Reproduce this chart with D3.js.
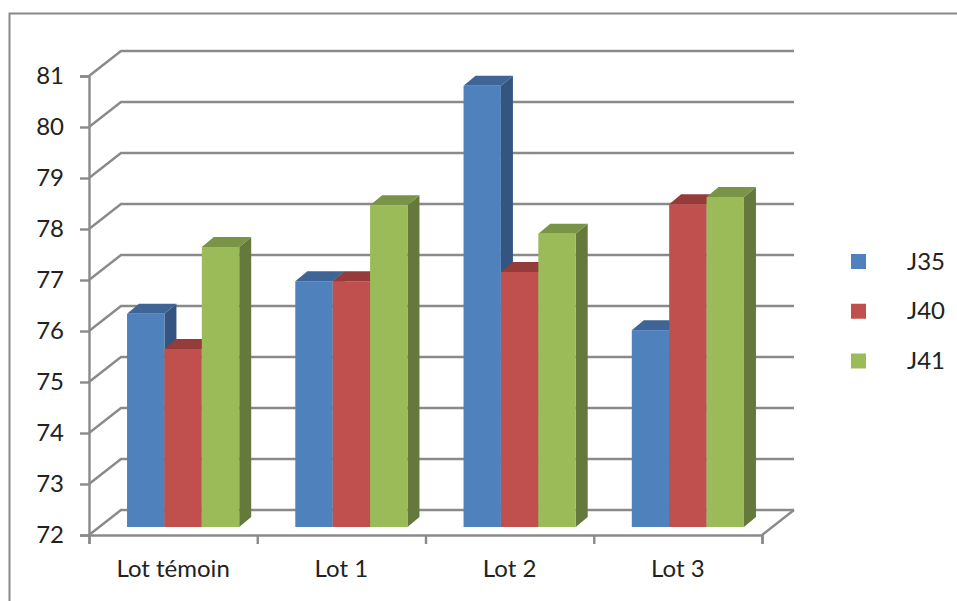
<!DOCTYPE html>
<html>
<head>
<meta charset="utf-8">
<script src="https://cdnjs.cloudflare.com/ajax/libs/d3/7.8.5/d3.min.js"></script>
<style>
html,body{margin:0;padding:0;background:#fff;}
svg{display:block;}
text{font-family:Lato,"Open Sans",sans-serif;fill:#222;}
</style>
</head>
<body>
<script>
// Group labels and series
const categories = ["Lot témoin", "Lot 1", "Lot 2", "Lot 3"];
const seriesNames = ["J35", "J40", "J41"];
const j35 = [76.18, 76.82, 80.65, 75.86];
const j40 = [75.49, 76.82, 77.0, 78.33];
const j41 = [77.49, 78.31, 77.75, 78.47];
const yTicks = [72, 73, 74, 75, 76, 77, 78, 79, 80, 81];
const faceColors = ["#4F81BD", "#C0504D", "#9BBB59"];
const topColors = ["#3E6595", "#953C3A", "#7A9447"];
const sideColors = ["#33557F", "#7F3331", "#66793C"];

const series = [j35, j40, j41];
const W = 957, H = 601;
const gray = "#8a8a8a";

// 3D projection offsets: back wall and bar placement within the floor
const wallDx = 32, wallDy = -25;
const barOffDx = 10, barOffDy = -8;
const barDx = 12, barDy = -10;

const svg = d3.select("body").append("svg").attr("width", W).attr("height", H);

// Outer chart frame, running off the top-right and bottom-left
svg.append("path")
  .attr("d", d3.line()([[957, 13.5], [9.5, 13.5], [9.5, 601]]))
  .attr("fill", "none").attr("stroke", gray).attr("stroke-width", 2);

const y = d3.scaleLinear().domain([72, 81]).range([535, 76]);
const x = d3.scaleBand().domain(categories).range([89, 762]).paddingInner(0).paddingOuter(0);
const xEdges = d3.scaleLinear().domain([0, categories.length]).range([89, 762]);
const inner = d3.scaleBand().domain(seriesNames)
  .range([0, x.bandwidth()]).paddingInner(0).paddingOuter(0.75);

// Back wall gridlines with their diagonals to the side wall
const grid = svg.append("g").attr("fill", "none").attr("stroke", gray).attr("stroke-width", 2.4);
yTicks.forEach(t => {
  grid.append("path").attr("d", d3.line()([
    [89, y(t)],
    [89 + wallDx, y(t) + wallDy],
    [762 + wallDx, y(t) + wallDy]
  ]));
});
// Right edge of the floor
grid.append("path").attr("d", d3.line()([
  [762, y(72)], [762 + wallDx, y(72) + wallDy]
]));

// Axes
const yAxis = svg.append("g").attr("transform", "translate(89,0)")
  .call(d3.axisLeft(y).tickValues(yTicks).tickSize(9).tickPadding(16).tickFormat(d3.format("d")));
const xAxis = svg.append("g").attr("transform", `translate(0,${y(72)})`)
  .call(d3.axisBottom(xEdges).tickValues(d3.range(categories.length + 1)).tickSize(9).tickFormat(""));
[yAxis, xAxis].forEach(a => {
  a.selectAll("path.domain").attr("stroke", gray).attr("stroke-width", 2.4);
  a.selectAll("line").attr("stroke", gray).attr("stroke-width", 2.4);
});
yAxis.selectAll("text").attr("font-size", 24).style("font-family", "Lato").attr("fill", "#222");

svg.append("g").selectAll("text").data(categories).join("text")
  .attr("x", d => x(d) + x.bandwidth() / 2)
  .attr("y", 577)
  .attr("text-anchor", "middle")
  .attr("font-size", 24)
  .text(d => d);

// Bars: front face, top and side as separate polygons, painted left to right
const base = y(72) + barOffDy;
const h = v => (v - 72) * (y(72) - y(73));
const poly = d3.line();
categories.forEach((c, ci) => {
  const g = svg.append("g");
  seriesNames.forEach((s, si) => {
    const v = series[si][ci];
    const x0 = x(c) + inner(s) + barOffDx;
    const x1 = x0 + inner.bandwidth();
    const top = base - h(v);
    g.append("path").attr("fill", sideColors[si]).attr("d", poly([
      [x1, base], [x1 + barDx, base + barDy], [x1 + barDx, top + barDy], [x1, top]
    ]) + "Z");
    g.append("path").attr("fill", topColors[si]).attr("d", poly([
      [x0, top], [x0 + barDx, top + barDy], [x1 + barDx, top + barDy], [x1, top]
    ]) + "Z");
    g.append("rect").attr("fill", faceColors[si])
      .attr("x", x0).attr("y", top)
      .attr("width", inner.bandwidth()).attr("height", base - top);
  });
});

// Legend
const legendY = d3.scalePoint().domain(seriesNames).range([261.5, 361]);
const legend = svg.append("g").selectAll("g").data(seriesNames).join("g")
  .attr("transform", d => `translate(0,${legendY(d)})`);
legend.append("rect")
  .attr("x", 851).attr("y", -7.5).attr("width", 15).attr("height", 15)
  .attr("fill", (d, i) => faceColors[i]);
legend.append("text")
  .attr("x", 907).attr("y", 8)
  .attr("font-size", 24)
  .text(d => d);
</script>
</body>
</html>
